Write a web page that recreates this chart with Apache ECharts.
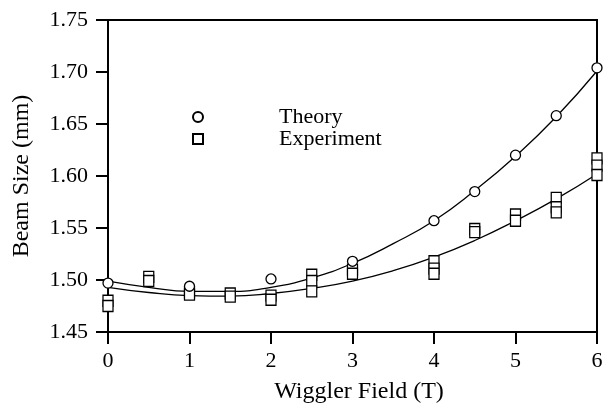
<!DOCTYPE html>
<html>
<head>
<meta charset="utf-8">
<script src="https://cdn.jsdelivr.net/npm/echarts@6/dist/echarts.min.js"></script>
<style>html,body{margin:0;padding:0;background:#fff}#c{width:604px;height:404px}</style>
</head>
<body>
<div id="c"></div>
<script>
// Theory (circles)
const theoryX = [0, 1, 2, 3, 4, 4.5, 5, 5.5, 6];
const theoryY = [1.497, 1.494, 1.501, 1.518, 1.557, 1.585, 1.620, 1.658, 1.704];
// Experiment (squares)
const expX = [0, 0, 0.5, 0.5, 1, 1, 1.5, 1.5, 2, 2, 2.5, 2.5, 2.5, 3, 3, 4, 4, 4, 4.5, 4.5, 5, 5, 5.5, 5.5, 5.5, 6, 6, 6];
const expY = [1.480, 1.475, 1.503, 1.499, 1.488, 1.486, 1.487, 1.484, 1.485, 1.481, 1.505, 1.499, 1.489, 1.510, 1.506, 1.518, 1.511, 1.506, 1.549, 1.546, 1.563, 1.557, 1.579, 1.570, 1.565, 1.617, 1.610, 1.601];
// Fitted curves
const fitX = [0, 0.5, 1, 1.5, 2, 2.5, 3, 3.5, 4, 4.5, 5, 5.5, 6];
const theoryFit = [1.499, 1.493, 1.489, 1.489, 1.493, 1.502, 1.516, 1.535, 1.557, 1.586, 1.619, 1.657, 1.701];
const expFit = [1.493, 1.488, 1.485, 1.4845, 1.487, 1.492, 1.499, 1.509, 1.522, 1.538, 1.557, 1.578, 1.602];
const xTicks = [0, 1, 2, 3, 4, 5, 6];
const yTicks = [1.45, 1.50, 1.55, 1.60, 1.65, 1.70, 1.75];

const zip = (a, b) => a.map((v, i) => [v, b[i]]);
const font = 'Liberation Serif';
const chart = echarts.init(document.getElementById('c'));
chart.setOption({
  backgroundColor: '#fff',
  animation: false,
  grid: { left: 108, right: 7, top: 20, bottom: 72, show: true, borderColor: '#000', borderWidth: 2, backgroundColor: 'transparent', containLabel: false, outerBoundsMode: 'none' },
  legend: {
    orient: 'vertical', left: 187, top: 101, itemGap: 0, itemWidth: 10, itemHeight: 10,
    data: ['Theory', 'Experiment'],
    formatter: n => '{t|' + n + '}',
    textStyle: { fontFamily: font, fontSize: 22, color: '#000', rich: { t: { fontFamily: font, fontSize: 22, lineHeight: 18, color: '#000', padding: [0, 0, 0, 71] } } }
  },
  xAxis: {
    type: 'value', min: xTicks[0], max: xTicks[xTicks.length - 1], interval: 1,
    name: 'Wiggler Field (T)', nameLocation: 'middle', nameGap: 48,
    nameTextStyle: { fontFamily: font, fontSize: 24, color: '#000', padding: [0, 0, 0, 13] },
    axisLine: { lineStyle: { color: '#000', width: 2 } },
    axisTick: { show: true, inside: false, length: 12, lineStyle: { color: '#000', width: 2 } },
    axisLabel: { margin: 18, fontFamily: font, fontSize: 22, color: '#000' },
    splitLine: { show: false }
  },
  yAxis: {
    type: 'value', min: yTicks[0], max: yTicks[yTicks.length - 1], interval: 0.05,
    name: 'Beam Size (mm)', nameLocation: 'middle', nameGap: 74, nameRotate: 90,
    nameTextStyle: { fontFamily: font, fontSize: 24, color: '#000' },
    axisLine: { show: true, lineStyle: { color: '#000', width: 2 } },
    axisTick: { show: true, inside: false, length: 12, lineStyle: { color: '#000', width: 2 } },
    axisLabel: { margin: 20, fontFamily: font, fontSize: 22, color: '#000', formatter: v => v.toFixed(2) },
    splitLine: { show: false }
  },
  series: [
    { name: 'Theory fit', type: 'line', data: zip(fitX, theoryFit), smooth: true, showSymbol: false, lineStyle: { color: '#000', width: 1.3 }, silent: true, z: 1 },
    { name: 'Experiment fit', type: 'line', data: zip(fitX, expFit), smooth: true, showSymbol: false, lineStyle: { color: '#000', width: 1.3 }, silent: true, z: 1 },
    { name: 'Theory', type: 'scatter', data: zip(theoryX, theoryY), symbol: 'circle', symbolSize: 10, itemStyle: { color: '#fff', borderColor: '#000', borderWidth: 1.3, opacity: 1 }, z: 3 },
    { name: 'Experiment', type: 'scatter', data: zip(expX, expY), symbol: 'rect', symbolSize: [10, 11], itemStyle: { color: '#fff', borderColor: '#000', borderWidth: 1.3, opacity: 1 }, z: 2 }
  ]
});
</script>
</body>
</html>
